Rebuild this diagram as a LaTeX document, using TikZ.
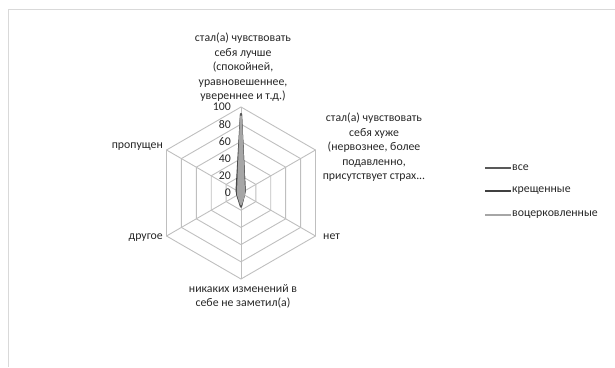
\documentclass[tikz,border=0pt]{standalone}
\usepackage{fontspec}
\setmainfont{Carlito}
\usepackage{xcolor}
\usetikzlibrary{positioning,calc}

\definecolor{gridgray}{HTML}{BFBFBF}
\definecolor{framegray}{HTML}{D9D9D9}
\definecolor{txtgray}{HTML}{262626}
\definecolor{allgray}{HTML}{595959}
\definecolor{baptgray}{HTML}{404040}
\definecolor{churchgray}{HTML}{A6A6A6}

\begin{document}
\begin{tikzpicture}[x=1pt,y=1pt,
    lbl/.style={font=\fontsize{11.8}{14.5}\selectfont, text=txtgray, inner sep=0pt, align=center},
    tick/.style={font=\fontsize{11.8}{14}\selectfont, text=txtgray, inner sep=0pt, anchor=east},
    grid/.style={draw=gridgray, line width=0.9pt},
    series/.style={line width=2pt, line join=round}]
    \useasboundingbox (0,0) rectangle (615,367);

    % Chart frame
    \draw[framegray, line width=0.8pt] (615,358) -- (8.5,358) -- (8.5,0);

    % Radar centre and rings
    \coordinate (c) at (241,174);
    \foreach \r in {20,40,60,80,100}
        \draw[grid] ($(c)+(90:0.86*\r)$) \foreach \a in {30,-30,-90,-150,150} { -- ($(c)+(\a:0.86*\r)$) } -- cycle;

    % Spokes
    \foreach \a/\n in {90/v0,30/v1,-30/v2,-90/v3,-150/v4,150/v5} {
        \coordinate (\n) at ($(c)+(\a:86)$);
        \draw[grid] (c) -- (\n);
    }

    % Tick labels
    \foreach \r in {0,20,40,60,80,100}
        \node[tick] (t\r) at ($(c)+(-10,0.86*\r)$) {\r};

    % Axis labels
    \node[lbl, anchor=north] (better) at (243,334) {стал(а) чувствовать\\себя лучше\\(спокойней,\\уравновешеннее,\\увереннее и т.д.)};
    \node[lbl, anchor=north] (worse) at (374,254) {стал(а) чувствовать\\себя хуже\\(нервознее, более\\подавленно,\\присутствует страх...};
    \node[lbl, anchor=west] (no) at (323,130) {нет};
    \node[lbl, anchor=north] (nochange) at (243,83) {никаких изменений в\\себе не заметил(а)};
    \node[lbl, anchor=east] (other) at (163,129) {другое};
    \node[lbl, anchor=east] (skipped) at (163,220) {пропущен};

    % Data series
    \draw[series, baptgray] ($(c)+(90:0.86*92)$) -- ($(c)+(30:0.86*5)$) -- ($(c)+(-30:0.86*4)$) -- ($(c)+(-90:0.86*16)$) -- ($(c)+(-150:0.86*5)$) -- ($(c)+(150:0.86*6)$) -- cycle;
    \draw[series, allgray] ($(c)+(90:0.86*91)$) -- ($(c)+(30:0.86*5)$) -- ($(c)+(-30:0.86*4)$) -- ($(c)+(-90:0.86*15)$) -- ($(c)+(-150:0.86*4)$) -- ($(c)+(150:0.86*5)$) -- cycle;
    \draw[series, churchgray, fill=churchgray] ($(c)+(90:0.86*89)$) -- ($(c)+(30:0.86*4)$) -- ($(c)+(-30:0.86*4)$) -- ($(c)+(-90:0.86*13)$) -- ($(c)+(-150:0.86*4)$) -- ($(c)+(150:0.86*4)$) -- cycle;

    % Legend
    \foreach \y/\col/\n/\t in {199/allgray/la/все,176/baptgray/lb/крещенные,152/churchgray/lc/воцерковленные} {
        \coordinate (\n) at (485,\y);
        \node[lbl, anchor=west] (\n t) at (512,\y) {\t};
        \draw[\col, line width=2.6pt] (\n) -- ($(\n t.west)+(-1,0)$);
    }
\end{tikzpicture}
\end{document}
